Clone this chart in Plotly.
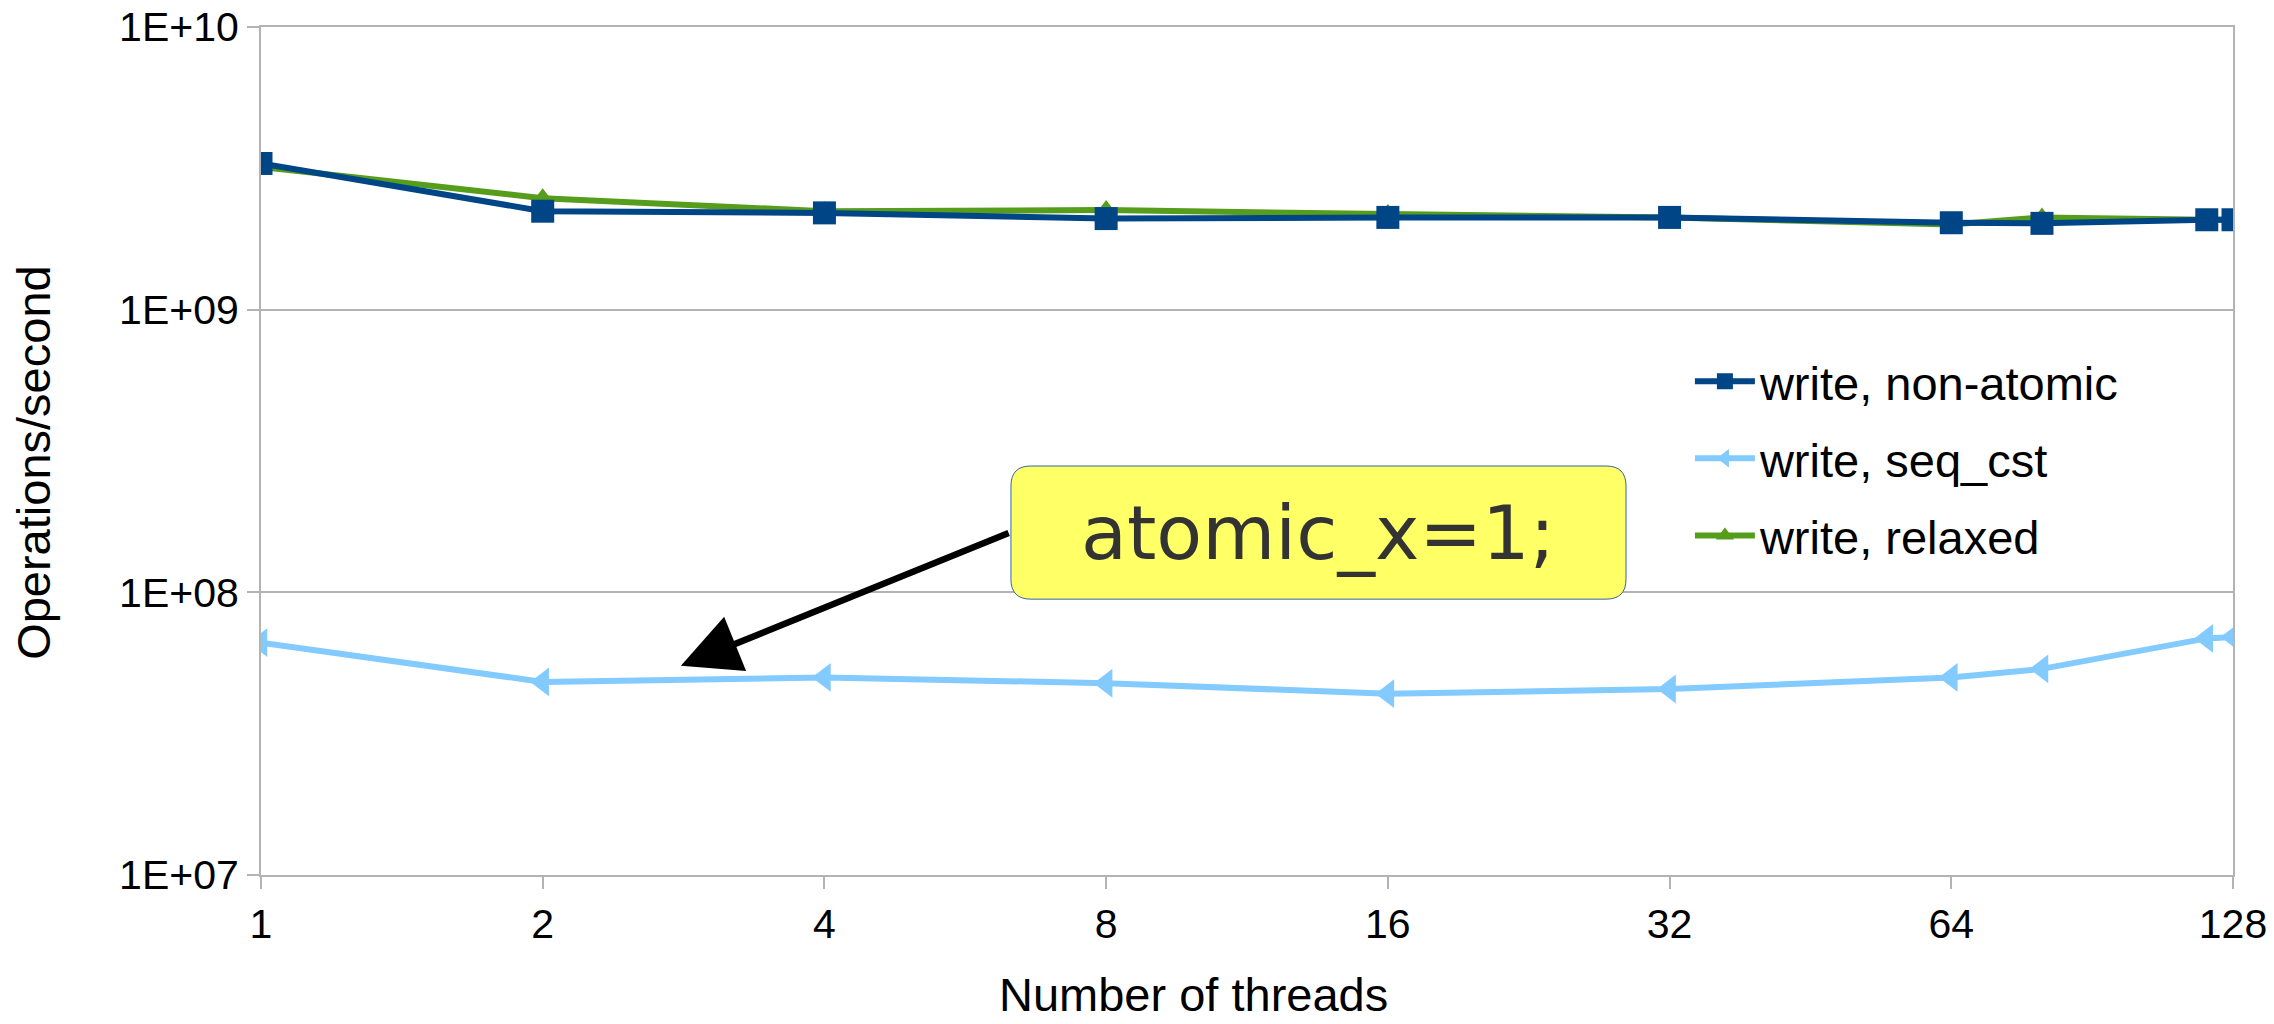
import plotly.graph_objects as go
import math

threads = [1, 2, 4, 8, 16, 32, 64, 80, 120, 128]
non_atomic = [3.29e9, 2.23e9, 2.20e9, 2.10e9, 2.12e9, 2.12e9, 2.03e9, 2.02e9, 2.08e9, 2.08e9]
seq_cst = [6.64e7, 4.82e7, 5.0e7, 4.77e7, 4.38e7, 4.55e7, 5.0e7, 5.36e7, 6.87e7, 6.95e7]
relaxed = [3.2e9, 2.48e9, 2.23e9, 2.25e9, 2.18e9, 2.12e9, 2.0e9, 2.12e9, 2.08e9, 2.08e9]

x_ticks = [1, 2, 4, 8, 16, 32, 64, 128]
y_ticks = [1e7, 1e8, 1e9, 1e10]
y_ticktext = ["1E+07", "1E+08", "1E+09", "1E+10"]

FONT = "Liberation Sans, Arial, sans-serif"
TICK_FS = 41
LEG_FS = 47
TITLE_FS = 47
GRID = "#b3b3b3"

fig = go.Figure()
fig.add_trace(go.Scatter(x=threads, y=relaxed, name="write, relaxed", mode="lines+markers",
                         legendgroup="c", legendrank=3,
                         line=dict(color="#579D1C", width=6),
                         marker=dict(symbol="triangle-up", size=20, color="#579D1C")))
fig.add_trace(go.Scatter(x=threads, y=seq_cst, name="write, seq_cst", mode="lines+markers",
                         legendgroup="b", legendrank=2,
                         line=dict(color="#83CAFF", width=6),
                         marker=dict(symbol="triangle-left", size=25, color="#83CAFF")))
fig.add_trace(go.Scatter(x=threads, y=non_atomic, name="write, non-atomic", mode="lines+markers",
                         legendgroup="a", legendrank=1,
                         line=dict(color="#004586", width=6),
                         marker=dict(symbol="square", size=23, color="#004586")))

# annotation box (paper coords)
x0, x1, y0, y1 = 0.3803, 0.6922, 0.3253, 0.4823
rx, ry = 0.0101, 0.0236
path = (f"M {x0+rx},{y0} L {x1-rx},{y0} Q {x1},{y0} {x1},{y0+ry} "
        f"L {x1},{y1-ry} Q {x1},{y1} {x1-rx},{y1} L {x0+rx},{y1} "
        f"Q {x0},{y1} {x0},{y1-ry} L {x0},{y0+ry} Q {x0},{y0} {x0+rx},{y0} Z")
fig.add_shape(type="path", path=path, xref="paper", yref="paper",
              fillcolor="#FFFF66", line=dict(color="#3465A4", width=1))

fig.add_annotation(x=math.log10(2.81), y=7.74, ax=0.8005, ay=8.212, axref="x", ayref="y",
                   xref="x", yref="y", text="", showarrow=True, arrowhead=2, arrowsize=1.8,
                   arrowwidth=6.5, arrowcolor="#000000", standoff=0)
fig.add_annotation(x=(x0 + x1) / 2, y=(y0 + y1) / 2, xref="paper", yref="paper",
                   text="atomic_x=1;", showarrow=False,
                   font=dict(family="DejaVu Sans", size=75, color="#333333"))

# axis titles (placed as in the original)
fig.add_annotation(x=0.4731, y=-0.1411, xref="paper", yref="paper",
                   text="Number of threads", showarrow=False,
                   xanchor="center", yanchor="middle",
                   font=dict(family=FONT, size=TITLE_FS, color="#000000"))
fig.add_annotation(x=-0.1157, y=0.487, xref="paper", yref="paper",
                   text="Operations/second", showarrow=False, textangle=-90,
                   xanchor="center", yanchor="middle",
                   font=dict(family=FONT, size=TITLE_FS, color="#000000"))

fig.update_layout(
    width=2274, height=1024,
    margin=dict(l=261, r=41, t=27, b=149),
    paper_bgcolor="white", plot_bgcolor="white",
    font=dict(family=FONT, size=TICK_FS, color="#000000"),
    showlegend=True,
    legend=dict(x=0.7246, y=0.626, xanchor="left", yanchor="top", traceorder="grouped",
                bgcolor="rgba(0,0,0,0)", font=dict(size=LEG_FS), itemwidth=60,
                tracegroupgap=13),
    xaxis=dict(type="log", range=[0, math.log10(128)], tickvals=x_ticks,
               ticktext=[str(v) for v in x_ticks], showgrid=False, automargin=False,
               showline=True, linecolor=GRID, linewidth=2, mirror=True,
               ticks="outside", ticklen=12, tickcolor=GRID, tickwidth=2,
               tickfont=dict(size=TICK_FS), zeroline=False),
    yaxis=dict(type="log", range=[7, 10], tickvals=y_ticks, ticktext=y_ticktext,
               showgrid=True, gridcolor=GRID, gridwidth=2, automargin=False,
               showline=True, linecolor=GRID, linewidth=2, mirror=True,
               ticks="outside", ticklen=12, tickcolor=GRID, tickwidth=2,
               tickfont=dict(size=TICK_FS), zeroline=False),
)

fig.write_html("out.html")
